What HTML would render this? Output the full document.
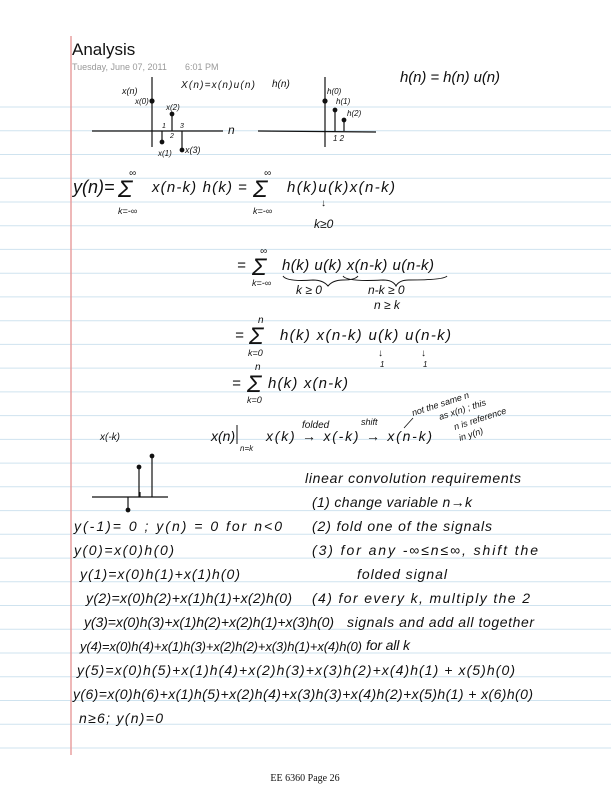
<!DOCTYPE html>
<html><head><meta charset="utf-8"><style>
html,body{margin:0;padding:0;background:#fff}
svg{display:block}
.h{font-family:"Liberation Sans",sans-serif;font-style:italic;fill:#111}
</style></head><body>
<svg width="611" height="792" viewBox="0 0 611 792" xmlns="http://www.w3.org/2000/svg">
<g stroke="#cfe3ef" stroke-width="1">
<line x1="0" y1="107" x2="611" y2="107"/><line x1="0" y1="130.7" x2="611" y2="130.7"/><line x1="0" y1="154.5" x2="611" y2="154.5"/><line x1="0" y1="178.2" x2="611" y2="178.2"/><line x1="0" y1="202" x2="611" y2="202"/><line x1="0" y1="225.7" x2="611" y2="225.7"/><line x1="0" y1="249.4" x2="611" y2="249.4"/><line x1="0" y1="273.2" x2="611" y2="273.2"/><line x1="0" y1="296.9" x2="611" y2="296.9"/><line x1="0" y1="320.7" x2="611" y2="320.7"/><line x1="0" y1="344.4" x2="611" y2="344.4"/><line x1="0" y1="368.1" x2="611" y2="368.1"/><line x1="0" y1="391.9" x2="611" y2="391.9"/><line x1="0" y1="415.6" x2="611" y2="415.6"/><line x1="0" y1="439.4" x2="611" y2="439.4"/><line x1="0" y1="463.1" x2="611" y2="463.1"/><line x1="0" y1="486.8" x2="611" y2="486.8"/><line x1="0" y1="510.6" x2="611" y2="510.6"/><line x1="0" y1="534.3" x2="611" y2="534.3"/><line x1="0" y1="558.1" x2="611" y2="558.1"/><line x1="0" y1="581.8" x2="611" y2="581.8"/><line x1="0" y1="605.5" x2="611" y2="605.5"/><line x1="0" y1="629.3" x2="611" y2="629.3"/><line x1="0" y1="653" x2="611" y2="653"/><line x1="0" y1="676.8" x2="611" y2="676.8"/><line x1="0" y1="700.5" x2="611" y2="700.5"/><line x1="0" y1="724.2" x2="611" y2="724.2"/><line x1="0" y1="748" x2="611" y2="748"/>
</g>
<line x1="71" y1="36" x2="71" y2="755" stroke="#e8a0a0" stroke-width="1.5"/>
<text x="72" y="55" font-family="Liberation Sans,sans-serif" font-size="17" fill="#111">Analysis</text>
<text x="72" y="70" font-family="Liberation Sans,sans-serif" font-size="9" fill="#999">Tuesday, June 07, 2011</text>
<text x="185" y="70" font-family="Liberation Sans,sans-serif" font-size="9" fill="#999">6:01 PM</text>

<g stroke="#111" stroke-width="1.2" fill="#111">
<line x1="92" y1="131" x2="223" y2="131"/><line x1="152" y1="77" x2="152" y2="147"/>
<line x1="162" y1="131" x2="162" y2="142"/><circle cx="162" cy="142" r="1.8"/>
<line x1="172" y1="131" x2="172" y2="114"/><circle cx="172" cy="114" r="1.8"/>
<line x1="182" y1="131" x2="182" y2="150"/><circle cx="182" cy="150" r="1.8"/>
<circle cx="152" cy="101" r="2"/>
<line x1="258" y1="131" x2="376" y2="132"/><line x1="325" y1="77" x2="325" y2="147"/>
<circle cx="325" cy="101" r="2"/>
<line x1="335" y1="131" x2="335" y2="110"/><circle cx="335" cy="110" r="1.8"/>
<line x1="344" y1="131" x2="344" y2="120"/><circle cx="344" cy="120" r="1.8"/>
<line x1="92" y1="497" x2="168" y2="497"/>
<line x1="152" y1="497" x2="152" y2="456"/><circle cx="152" cy="456" r="1.8"/>
<line x1="139" y1="497" x2="139" y2="467"/><circle cx="139" cy="467" r="1.8"/>
<line x1="128" y1="497" x2="128" y2="510"/><circle cx="128" cy="510" r="1.8"/>
<line x1="140" y1="497" x2="140" y2="492"/>
</g>
<g class="h">
<text x="122" y="94" font-size="9">x(n)</text>
<text x="135" y="104" font-size="8">x(0)</text>
<text x="166" y="110" font-size="8">x(2)</text>
<text x="162" y="128" font-size="7">1</text>
<text x="170" y="138" font-size="7">2</text>
<text x="180" y="128" font-size="7">3</text>
<text x="158" y="156" font-size="8">x(1)</text>
<text x="185" y="153" font-size="9">x(3)</text>
<text x="228" y="134" font-size="12">n</text>
<text x="181" y="88" font-size="10" textLength="74">X(n)=x(n)u(n)</text>
<text x="272" y="87" font-size="10">h(n)</text>
<text x="327" y="94" font-size="8">h(0)</text>
<text x="336" y="104" font-size="8">h(1)</text>
<text x="347" y="116" font-size="8">h(2)</text>
<text x="333" y="141" font-size="8">1 2</text>
<text x="400" y="82" font-size="15" textLength="100">h(n) = h(n) u(n)</text>

<text x="73" y="193" font-size="18">y(n)=</text>
<text x="118" y="197" font-size="24">Σ</text>
<text x="129" y="176" font-size="10">∞</text>
<text x="118" y="214" font-size="9">k=-∞</text>
<text x="152" y="192" font-size="15" textLength="80">x(n-k) h(k)</text>
<text x="238" y="192" font-size="15">=</text>
<text x="253" y="197" font-size="24">Σ</text>
<text x="264" y="176" font-size="10">∞</text>
<text x="253" y="214" font-size="9">k=-∞</text>
<text x="287" y="192" font-size="15" textLength="108">h(k)u(k)x(n-k)</text>
<text x="321" y="206" font-size="10">↓</text>
<text x="314" y="228" font-size="12">k≥0</text>

<text x="237" y="270" font-size="15">=</text>
<text x="252" y="275" font-size="24">Σ</text>
<text x="260" y="254" font-size="10">∞</text>
<text x="252" y="286" font-size="9">k=-∞</text>
<text x="282" y="270" font-size="15" textLength="152">h(k) u(k) x(n-k) u(n-k)</text>
<path d="M283 276 q4 6 30 4 q10 0 15 6 q5 -6 15 -6 q12 0 15 -4 M343 276 q4 6 40 4 q10 0 13 6 q3 -6 13 -6 q35 0 38 -4" stroke="#111" fill="none" stroke-width="1"/>
<text x="296" y="294" font-size="12">k ≥ 0</text>
<text x="368" y="294" font-size="12">n-k ≥ 0</text>
<text x="374" y="309" font-size="12">n ≥ k</text>

<text x="235" y="340" font-size="15">=</text>
<text x="249" y="344" font-size="24">Σ</text>
<text x="258" y="323" font-size="10">n</text>
<text x="248" y="356" font-size="9">k=0</text>
<text x="280" y="340" font-size="15" textLength="171">h(k) x(n-k) u(k) u(n-k)</text>
<text x="378" y="356" font-size="10">↓</text>
<text x="421" y="356" font-size="10">↓</text>
<text x="380" y="367" font-size="8">1</text>
<text x="423" y="367" font-size="8">1</text>

<text x="232" y="388" font-size="15">=</text>
<text x="247" y="392" font-size="24">Σ</text>
<text x="255" y="370" font-size="10">n</text>
<text x="247" y="403" font-size="9">k=0</text>
<text x="268" y="388" font-size="15" textLength="80">h(k) x(n-k)</text>

<text x="211" y="441" font-size="14">x(n)</text>
<line x1="237" y1="425" x2="237" y2="444" stroke="#111" stroke-width="1"/>
<text x="240" y="451" font-size="8">n=k</text>
<text x="266" y="441" font-size="14" textLength="166">x(k) → x(-k) → x(n-k)</text>
<text x="302" y="428" font-size="10">folded</text>
<text x="361" y="425" font-size="9">shift</text>
<line x1="404" y1="428" x2="413" y2="418" stroke="#111" stroke-width="0.8"/>
<text x="413" y="416" font-size="9" transform="rotate(-18 413 416)">not the same n</text>
<text x="440" y="420" font-size="9" transform="rotate(-18 440 420)">as x(n) ; this</text>
<text x="455" y="430" font-size="9" transform="rotate(-18 455 430)">n is reference</text>
<text x="460" y="441" font-size="9" transform="rotate(-18 460 441)">in y(n)</text>

<text x="100" y="440" font-size="10">x(-k)</text>

<text x="305" y="483" font-size="14" textLength="216">linear convolution requirements</text>
<text x="312" y="507" font-size="14" textLength="160">(1) change variable n→k</text>
<text x="312" y="531" font-size="14" textLength="180">(2) fold one of the signals</text>
<text x="312" y="555" font-size="14" textLength="226">(3) for any -∞≤n≤∞, shift the</text>
<text x="357" y="579" font-size="14" textLength="90">folded signal</text>
<text x="312" y="603" font-size="14" textLength="218">(4) for every k, multiply the 2</text>
<text x="347" y="627" font-size="14" textLength="187">signals and add all together</text>
<text x="366" y="650" font-size="14" textLength="44">for all k</text>

<text x="74" y="531" font-size="14" textLength="208">y(-1)= 0 ; y(n) = 0 for n&lt;0</text>
<text x="74" y="555" font-size="14" textLength="100">y(0)=x(0)h(0)</text>
<text x="80" y="579" font-size="14" textLength="160">y(1)=x(0)h(1)+x(1)h(0)</text>
<text x="86" y="603" font-size="14" textLength="206">y(2)=x(0)h(2)+x(1)h(1)+x(2)h(0)</text>
<text x="84" y="627" font-size="14" textLength="250">y(3)=x(0)h(3)+x(1)h(2)+x(2)h(1)+x(3)h(0)</text>
<text x="80" y="651" font-size="13" textLength="282">y(4)=x(0)h(4)+x(1)h(3)+x(2)h(2)+x(3)h(1)+x(4)h(0)</text>
<text x="77" y="675" font-size="14" textLength="438">y(5)=x(0)h(5)+x(1)h(4)+x(2)h(3)+x(3)h(2)+x(4)h(1) + x(5)h(0)</text>
<text x="73" y="699" font-size="14" textLength="460">y(6)=x(0)h(6)+x(1)h(5)+x(2)h(4)+x(3)h(3)+x(4)h(2)+x(5)h(1) + x(6)h(0)</text>
<text x="79" y="723" font-size="14" textLength="84">n≥6; y(n)=0</text>
</g>
<text x="305" y="781" text-anchor="middle" font-family="Liberation Serif,serif" font-size="10" fill="#111">EE 6360 Page 26</text>
</svg>
</body></html>
